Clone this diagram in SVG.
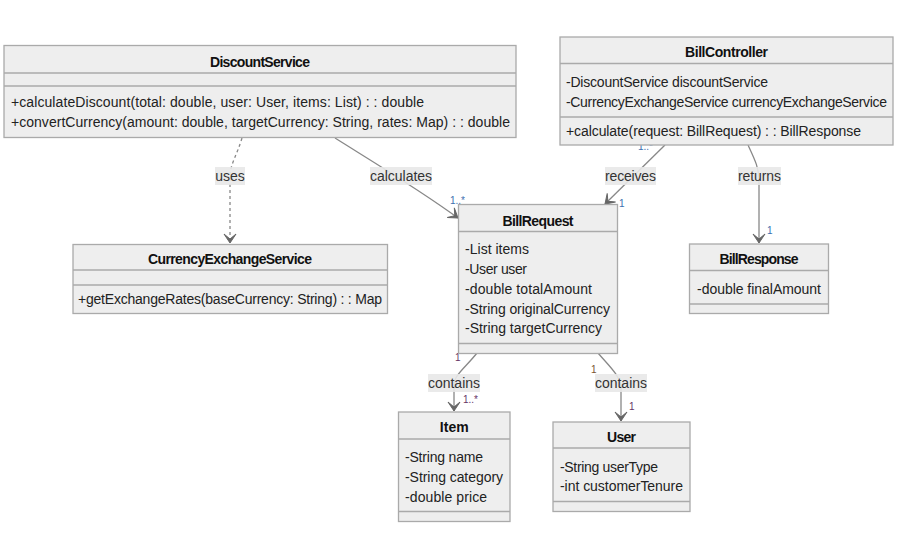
<svg xmlns="http://www.w3.org/2000/svg" width="902" height="539" viewBox="0 0 902 539">
<defs>
<style>
.box{fill:#eeeeee;stroke:#aaaaaa;stroke-width:1.3}
.div{stroke:#aaaaaa;stroke-width:1.3}
.t{font-family:"Liberation Sans",Arial,sans-serif;font-size:14px;fill:#222}
.tb{font-family:"Liberation Sans",Arial,sans-serif;font-size:14px;font-weight:bold;fill:#111;text-anchor:middle}
.edge{fill:none;stroke:#888888;stroke-width:1.3}
.dash{stroke-dasharray:3,3}
.lbg{fill:#e8e8e8;opacity:0.9}
.lt{font-family:"Liberation Sans",Arial,sans-serif;font-size:14px;fill:#333;text-anchor:middle}
.card{font-family:"Liberation Sans",Arial,sans-serif;font-size:10px}
.cb{fill:#3d6fb0}
.cp{fill:#663366}
.co{fill:#7a5530}
</style>
<marker id="arr" viewBox="0 0 20 14" refX="18" refY="7" markerWidth="20" markerHeight="14" markerUnits="userSpaceOnUse" orient="auto">
<path d="M18,7 L9,13 L14,7 L9,1 Z" fill="#666666" stroke="#666666" stroke-width="1"/>
</marker>
</defs>
<rect width="902" height="539" fill="#ffffff"/>

<g id="connectors">
<path class="edge dash" d="M242,138 C237,155 230,165 230,176 L230,243" marker-end="url(#arr)"/>
<path class="edge" d="M335,138 C370,160 420,190 458,218" marker-end="url(#arr)"/>
<path class="edge" d="M665,145 L605,204" marker-end="url(#arr)"/>
<path class="edge" d="M748,145 C755,160 759,168 759,180 L759,243" marker-end="url(#arr)"/>
<path class="edge" d="M477,353 C466,367 454,375 454,385 L454,411" marker-end="url(#arr)"/>
<path class="edge" d="M598,353 C609,366 620,375 621,388 L621,421" marker-end="url(#arr)"/>

<rect class="lbg" x="215" y="167" width="30" height="18"/>
<text class="lt" x="230" y="181">uses</text>
<rect class="lbg" x="370" y="167" width="62" height="18"/>
<text class="lt" x="401" y="181" textLength="62">calculates</text>
<rect class="lbg" x="605" y="167" width="51" height="18"/>
<text class="lt" x="630.5" y="181" textLength="51">receives</text>
<rect class="lbg" x="738" y="167" width="43" height="18"/>
<text class="lt" x="759.5" y="181" textLength="43">returns</text>
<rect class="lbg" x="428" y="374" width="52" height="18"/>
<text class="lt" x="454" y="388" textLength="52">contains</text>
<rect class="lbg" x="595" y="374" width="52" height="18"/>
<text class="lt" x="621" y="388" textLength="52">contains</text>

<text class="card cb" x="450" y="204">1..*</text>
<text class="card cb" x="638" y="150">1..*</text>
<text class="card cb" x="619" y="207">1</text>
<text class="card cb" x="767" y="234">1</text>
<text class="card cp" x="455" y="361">1</text>
<text class="card cp" x="463" y="403">1..*</text>
<text class="card co" x="591" y="373">1</text>
<text class="card cp" x="629" y="410">1</text>
</g>

<g id="DiscountService">
<rect class="box" x="4" y="45.5" width="512" height="92"/>
<line class="div" x1="4" y1="73" x2="516" y2="73"/>
<line class="div" x1="4" y1="86" x2="516" y2="86"/>
<text class="tb" x="260" y="67" textLength="100">DiscountService</text>
<text class="t" x="11" y="107" textLength="413">+calculateDiscount(total: double, user: User, items: List) : : double</text>
<text class="t" x="11" y="127" textLength="499">+convertCurrency(amount: double, targetCurrency: String, rates: Map) : : double</text>
</g>

<g id="BillController">
<rect class="box" x="560" y="37" width="333" height="108"/>
<line class="div" x1="560" y1="63.5" x2="893" y2="63.5"/>
<line class="div" x1="560" y1="117" x2="893" y2="117"/>
<text class="tb" x="726.5" y="57" textLength="83">BillController</text>
<text class="t" x="566" y="87" textLength="202">-DiscountService discountService</text>
<text class="t" x="566" y="107" textLength="321">-CurrencyExchangeService currencyExchangeService</text>
<text class="t" x="566" y="136" textLength="295">+calculate(request: BillRequest) : : BillResponse</text>
</g>

<g id="BillRequest">
<rect class="box" x="458.5" y="204.5" width="159" height="149"/>
<line class="div" x1="458.5" y1="231.5" x2="617.5" y2="231.5"/>
<line class="div" x1="458.5" y1="343.5" x2="617.5" y2="343.5"/>
<text class="tb" x="538" y="225.5" textLength="71">BillRequest</text>
<text class="t" x="465" y="254" textLength="64">-List items</text>
<text class="t" x="465" y="274" textLength="62">-User user</text>
<text class="t" x="465" y="293.5" textLength="127">-double totalAmount</text>
<text class="t" x="465" y="313.5" textLength="145">-String originalCurrency</text>
<text class="t" x="465" y="333" textLength="137">-String targetCurrency</text>
</g>

<g id="BillResponse">
<rect class="box" x="689.5" y="244" width="139" height="69.5"/>
<line class="div" x1="689.5" y1="270.5" x2="828.5" y2="270.5"/>
<line class="div" x1="689.5" y1="304" x2="828.5" y2="304"/>
<text class="tb" x="759" y="263.5" textLength="79">BillResponse</text>
<text class="t" x="697" y="293.5" textLength="124">-double finalAmount</text>
</g>

<g id="CurrencyExchangeService">
<rect class="box" x="73" y="244.5" width="314.5" height="69"/>
<line class="div" x1="73" y1="270" x2="387.5" y2="270"/>
<line class="div" x1="73" y1="285" x2="387.5" y2="285"/>
<text class="tb" x="230" y="263.5" textLength="164">CurrencyExchangeService</text>
<text class="t" x="78" y="303.5" textLength="304">+getExchangeRates(baseCurrency: String) : : Map</text>
</g>

<g id="Item">
<rect class="box" x="398.5" y="412" width="111.5" height="109.5"/>
<line class="div" x1="398.5" y1="439" x2="510" y2="439"/>
<line class="div" x1="398.5" y1="511.5" x2="510" y2="511.5"/>
<text class="tb" x="454.3" y="432" textLength="29">Item</text>
<text class="t" x="405" y="462" textLength="78">-String name</text>
<text class="t" x="405" y="482" textLength="98">-String category</text>
<text class="t" x="405" y="501.5" textLength="82">-double price</text>
</g>

<g id="User">
<rect class="box" x="553" y="422" width="137" height="89.5"/>
<line class="div" x1="553" y1="448" x2="690" y2="448"/>
<line class="div" x1="553" y1="501.5" x2="690" y2="501.5"/>
<text class="tb" x="621.5" y="442" textLength="29">User</text>
<text class="t" x="560" y="471.5" textLength="98">-String userType</text>
<text class="t" x="560" y="491" textLength="123">-int customerTenure</text>
</g>
</svg>
